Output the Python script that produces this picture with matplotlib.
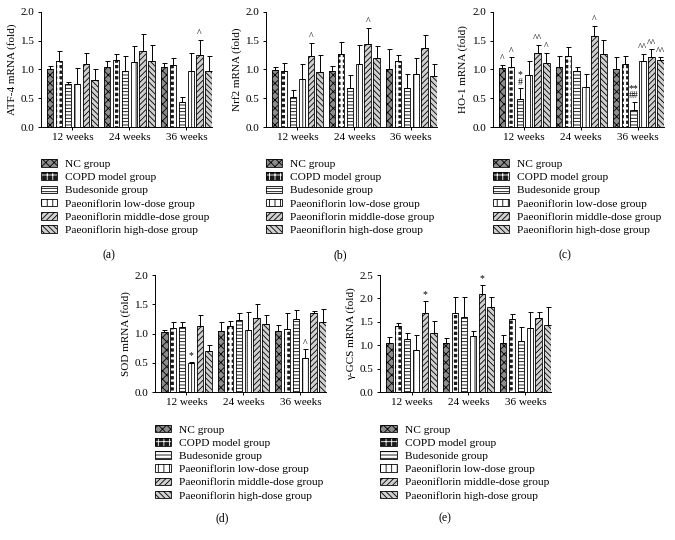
import numpy as np
import matplotlib
matplotlib.use("Agg")
import matplotlib.pyplot as plt
from matplotlib.patches import Rectangle

plt.rcParams['font.family'] = ['Liberation Serif', 'DejaVu Serif']
plt.rcParams['hatch.linewidth'] = 0.6

# ==========================================
# DATA
# ==========================================

weeks = ["12 weeks", "24 weeks", "36 weeks"]
groups = [
    "NC group",
    "COPD model group",
    "Budesonide group",
    "Paeoniflorin low-dose group",
    "Paeoniflorin middle-dose group",
    "Paeoniflorin high-dose group",
]

# mean per week (rows) and group (cols), and upper SD
atf4_mean = [[1.00, 1.14, 0.74, 0.74, 1.10, 0.82],
             [1.05, 1.17, 0.97, 1.13, 1.32, 1.14],
             [1.04, 1.07, 0.44, 0.97, 1.25, 0.98]]
atf4_sd = [[0.06, 0.19, 0.05, 0.28, 0.18, 0.18],
           [0.10, 0.10, 0.27, 0.27, 0.29, 0.28],
           [0.08, 0.13, 0.08, 0.31, 0.26, 0.26]]
atf4_marks = [(2, 4, "^")]

nrf2_mean = [[0.99, 0.98, 0.52, 0.84, 1.23, 0.95],
             [0.98, 1.27, 0.68, 1.09, 1.45, 1.20],
             [1.00, 1.15, 0.68, 0.92, 1.37, 0.88]]
nrf2_sd = [[0.05, 0.13, 0.12, 0.25, 0.23, 0.30],
           [0.08, 0.21, 0.23, 0.33, 0.27, 0.20],
           [0.35, 0.10, 0.24, 0.28, 0.23, 0.22]]
nrf2_marks = [(0, 4, "^"), (1, 4, "^")]

ho1_mean = [[1.03, 1.05, 0.49, 0.91, 1.28, 1.12],
            [1.04, 1.24, 0.98, 0.70, 1.58, 1.27],
            [1.00, 1.09, 0.29, 1.15, 1.21, 1.16]]
ho1_sd = [[0.05, 0.16, 0.18, 0.23, 0.15, 0.17],
          [0.19, 0.15, 0.07, 0.22, 0.18, 0.25],
          [0.22, 0.15, 0.15, 0.12, 0.14, 0.05]]
ho1_marks = [(0, 0, "^"), (0, 1, "^"), (0, 2, "*\n#"), (0, 4, "^^"), (0, 5, "^"),
             (1, 4, "^"), (2, 2, "**\n##"), (2, 3, "^^"), (2, 4, "^^"), (2, 5, "^^")]

sod_mean = [[1.02, 1.09, 1.11, 0.49, 1.13, 0.70],
            [1.04, 1.13, 1.23, 1.06, 1.27, 1.17],
            [1.04, 1.07, 1.24, 0.59, 1.35, 1.20]]
sod_sd = [[0.04, 0.10, 0.08, 0.02, 0.18, 0.11],
          [0.15, 0.08, 0.12, 0.30, 0.23, 0.15],
          [0.11, 0.28, 0.16, 0.14, 0.04, 0.22]]
sod_marks = [(0, 3, "*"), (2, 3, "^")]

gcs_mean = [[1.04, 1.41, 1.13, 0.90, 1.69, 1.26],
            [1.05, 1.69, 1.60, 1.19, 2.10, 1.82],
            [1.04, 1.55, 1.09, 1.37, 1.59, 1.43]]
gcs_sd = [[0.13, 0.06, 0.13, 0.32, 0.26, 0.25],
          [0.10, 0.34, 0.43, 0.12, 0.18, 0.22],
          [0.18, 0.12, 0.30, 0.34, 0.12, 0.38]]
gcs_marks = [(0, 4, "*"), (1, 4, "*")]

# ==========================================
# STYLES
# ==========================================

faces = ["#8c8c8c", "#1a1a1a", "white", "white", "#d0d0d0", "#d0d0d0"]
hatch_cols = ["black", "white", "black", "black", "black", "black"]
hatches = ["xxxx", "+++", "-----", "|||", "//////", "\\\\\\\\\\\\"]
hatch_lw = [0.6, 1.6, 0.6, 0.6, 0.6, 0.6]

bar_w = 0.114
pitch = 0.156


def set_hlw(patch, lw):
    if hasattr(patch, "set_hatch_linewidth"):
        patch.set_hatch_linewidth(lw)


def draw_panel(rect, mean, sd, marks, ylabel, ymax, caption, cap_xy):
    ax = fig.add_axes(rect)
    mean = np.array(mean)
    sd = np.array(sd)
    x0 = np.arange(len(weeks))
    handles = []
    for g in range(len(groups)):
        xs = x0 + (g - 2.5) * pitch
        # hatched fill (hatch takes the edge colour)
        fill = ax.bar(xs, mean[:, g], bar_w, color=faces[g],
                      edgecolor=hatch_cols[g], hatch=hatches[g], linewidth=0)
        for p in fill:
            set_hlw(p, hatch_lw[g])
        # outline + error bar
        ax.bar(xs, mean[:, g], bar_w, fill=False, edgecolor="black",
               linewidth=0.6,
               yerr=[np.zeros(3), sd[:, g]], capsize=1.8,
               error_kw=dict(elinewidth=0.7, capthick=0.7, ecolor="black"))
        # legend proxy: hatched fill + black outline
        h_fill = Rectangle((0, 0), 1, 1, facecolor=faces[g],
                           edgecolor=hatch_cols[g], hatch=hatches[g], linewidth=0)
        set_hlw(h_fill, hatch_lw[g])
        h_edge = Rectangle((0, 0), 1, 1, fill=False, edgecolor="black", linewidth=0.6)
        handles.append((h_fill, h_edge))
    for w, g, txt in marks:
        top = mean[w, g] + sd[w, g]
        ax.text(w + (g - 2.5) * pitch, top + 0.015 * ymax, txt,
                ha="center", va="bottom", fontsize=7, linespacing=0.75)
    ax.set_xlim(-0.553, 2.45)
    ax.set_ylim(0, ymax)
    ticks = np.arange(0, ymax + 0.01, 0.5)
    ax.set_yticks(ticks)
    ax.set_yticklabels(["%.1f" % v for v in ticks])
    ax.set_xticks(x0)
    ax.set_xticklabels(weeks)
    ax.tick_params(labelsize=8, length=2.5, width=0.7, pad=2)
    ax.spines["top"].set_visible(False)
    ax.spines["right"].set_visible(False)
    ax.spines["left"].set_linewidth(0.7)
    ax.spines["bottom"].set_linewidth(0.7)
    ax.set_ylabel(ylabel, fontsize=8, labelpad=3)
    ax.legend(handles, groups, loc="upper left", bbox_to_anchor=(0.0, -0.28),
              frameon=False, fontsize=8.2, handlelength=1.45, handleheight=0.65,
              handletextpad=0.7, labelspacing=0.3, borderpad=0,
              borderaxespad=0)
    fig.text(cap_xy[0] / 675, 1 - cap_xy[1] / 540, caption,
             ha="center", va="center", fontsize=8.5)
    return ax


fig = plt.figure(figsize=(6.75, 5.4), dpi=100)

draw_panel([0.0607, 0.7648, 0.2533, 0.213], atf4_mean, atf4_sd, atf4_marks,
           "ATF-4 mRNA (fold)", 2.0, "(a)", (109, 255))
draw_panel([0.394, 0.7648, 0.2533, 0.213], nrf2_mean, nrf2_sd, nrf2_marks,
           "Nrf2 mRNA (fold)", 2.0, "(b)", (340, 255))
draw_panel([0.730, 0.7648, 0.2533, 0.213], ho1_mean, ho1_sd, ho1_marks,
           "HO-1 mRNA (fold)", 2.0, "(c)", (565, 255))
draw_panel([0.2296, 0.274, 0.2533, 0.2167], sod_mean, sod_sd, sod_marks,
           "SOD mRNA (fold)", 2.0, "(d)", (222, 518))
draw_panel([0.563, 0.274, 0.2533, 0.2167], gcs_mean, gcs_sd, gcs_marks,
           "γ-GCS mRNA (fold)", 2.5, "(e)", (445, 518))

plt.savefig("out.png", dpi=100)
